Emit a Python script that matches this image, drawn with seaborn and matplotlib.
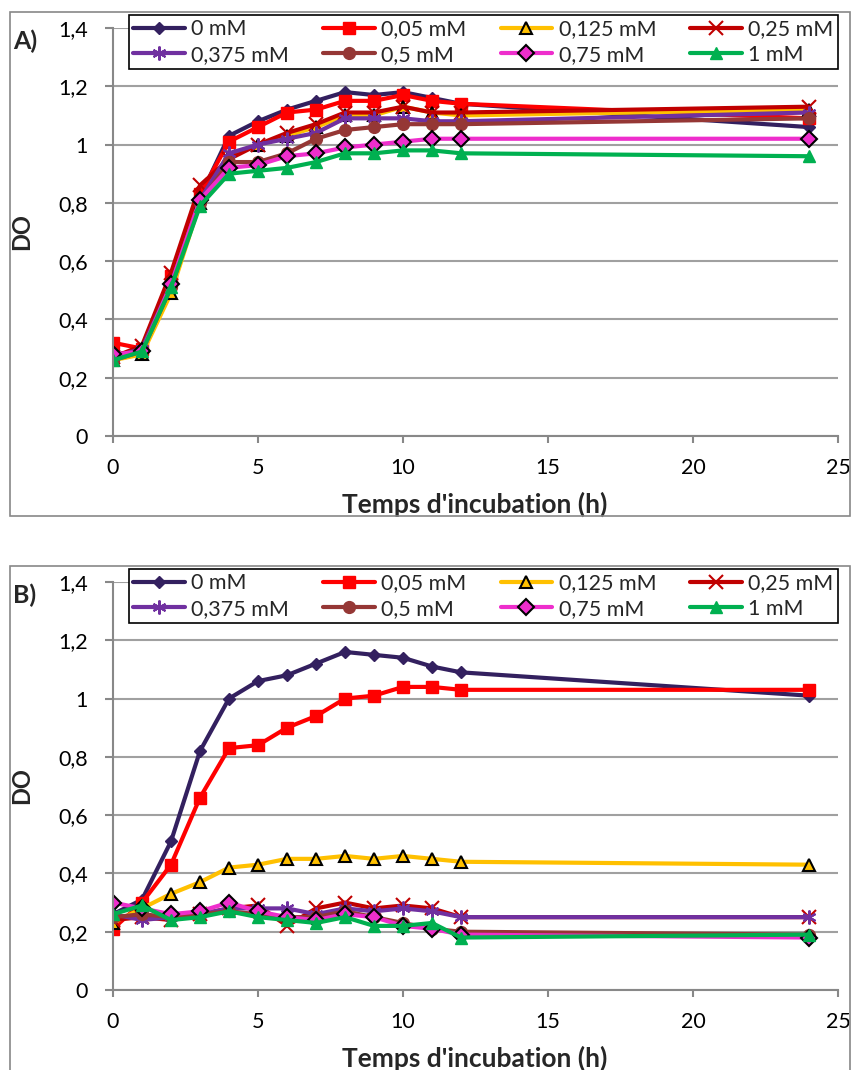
import matplotlib
matplotlib.use("Agg")
import matplotlib.pyplot as plt
from matplotlib.patches import Rectangle
from matplotlib.ticker import FuncFormatter
import seaborn as sns

# Time points (h)
temps = [0, 1, 2, 3, 4, 5, 6, 7, 8, 9, 10, 11, 12, 24]

labels = ["0 mM", "0,05 mM", "0,125 mM", "0,25 mM", "0,375 mM", "0,5 mM", "0,75 mM", "1 mM"]

# Panel A
a_0 = [0.28, 0.29, 0.53, 0.82, 1.03, 1.08, 1.12, 1.15, 1.18, 1.17, 1.18, 1.16, 1.14, 1.06]
a_005 = [0.32, 0.30, 0.55, 0.83, 1.01, 1.06, 1.11, 1.12, 1.15, 1.15, 1.17, 1.15, 1.14, 1.09]
a_0125 = [0.26, 0.28, 0.49, 0.80, 0.96, 1.00, 1.03, 1.06, 1.10, 1.10, 1.13, 1.11, 1.10, 1.12]
a_025 = [0.27, 0.31, 0.56, 0.86, 0.95, 1.00, 1.04, 1.07, 1.11, 1.11, 1.13, 1.11, 1.11, 1.13]
a_0375 = [0.27, 0.30, 0.52, 0.81, 0.97, 1.00, 1.02, 1.04, 1.09, 1.09, 1.09, 1.08, 1.08, 1.11]
a_05 = [0.26, 0.29, 0.51, 0.80, 0.94, 0.94, 0.97, 1.02, 1.05, 1.06, 1.07, 1.07, 1.07, 1.09]
a_075 = [0.28, 0.29, 0.52, 0.81, 0.92, 0.93, 0.96, 0.97, 0.99, 1.00, 1.01, 1.02, 1.02, 1.02]
a_1 = [0.26, 0.29, 0.51, 0.79, 0.90, 0.91, 0.92, 0.94, 0.97, 0.97, 0.98, 0.98, 0.97, 0.96]

# Panel B
b_0 = [0.26, 0.31, 0.51, 0.82, 1.00, 1.06, 1.08, 1.12, 1.16, 1.15, 1.14, 1.11, 1.09, 1.01]
b_005 = [0.21, 0.30, 0.43, 0.66, 0.83, 0.84, 0.90, 0.94, 1.00, 1.01, 1.04, 1.04, 1.03, 1.03]
b_0125 = [0.23, 0.28, 0.33, 0.37, 0.42, 0.43, 0.45, 0.45, 0.46, 0.45, 0.46, 0.45, 0.44, 0.43]
b_025 = [0.24, 0.25, 0.24, 0.26, 0.28, 0.29, 0.22, 0.28, 0.30, 0.28, 0.29, 0.28, 0.25, 0.25]
b_0375 = [0.26, 0.24, 0.25, 0.26, 0.28, 0.28, 0.28, 0.26, 0.28, 0.27, 0.28, 0.27, 0.25, 0.25]
b_05 = [0.25, 0.26, 0.25, 0.26, 0.27, 0.26, 0.25, 0.25, 0.27, 0.25, 0.23, 0.21, 0.20, 0.19]
b_075 = [0.30, 0.28, 0.26, 0.27, 0.30, 0.27, 0.25, 0.24, 0.26, 0.25, 0.22, 0.21, 0.19, 0.18]
b_1 = [0.26, 0.29, 0.24, 0.25, 0.27, 0.25, 0.24, 0.23, 0.25, 0.22, 0.22, 0.23, 0.18, 0.19]

panel_a = [a_0, a_005, a_0125, a_025, a_0375, a_05, a_075, a_1]
panel_b = [b_0, b_005, b_0125, b_025, b_0375, b_05, b_075, b_1]

# Styles (color, marker, marker size, marker edge color)
styles = [
    ("#33205F", "D", 6, "#33205F"),
    ("#FF0000", "s", 8.5, "#FF0000"),
    ("#FFC000", "^", 8.5, "black"),
    ("#C00000", "x", 10, "#C00000"),
    ("#7030A0", (6, 2, 0), 10, "#7030A0"),
    ("#953735", "o", 8.5, "#953735"),
    ("#EE2ECC", "D", 8.5, "black"),
    ("#00B050", "^", 8.5, "#00B050"),
]

sns.set_style("white")
plt.rcParams["font.family"] = ["Lato", "DejaVu Sans"]

W, H = 858, 1070
fig = plt.figure(figsize=(W / 100, H / 100), dpi=100)


def comma(v, pos):
    if abs(v - round(v)) < 1e-9:
        return str(int(round(v)))
    return ("%.1f" % v).replace(".", ",")


def draw(ax, series, leg_top):
    for lab, vals, (col, mk, ms, mec) in zip(labels, series, styles):
        mew = 1.5 if mk in ("x", (6, 2, 0)) or mec == "black" else 1.0
        sns.lineplot(x=temps, y=vals, ax=ax, color=col, marker=mk, markersize=ms,
                     markeredgecolor=mec, markeredgewidth=mew, linewidth=3, label=lab)
    ax.set_xlim(0, 25)
    ax.set_ylim(0, 1.4)
    ax.set_xticks([0, 5, 10, 15, 20, 25])
    ax.set_yticks([0, 0.2, 0.4, 0.6, 0.8, 1.0, 1.2, 1.4])
    ax.yaxis.set_major_formatter(FuncFormatter(comma))
    ax.grid(axis="y", color="#A0A0A0", linewidth=1.5)
    ax.set_axisbelow(True)
    for s in ["top", "right"]:
        ax.spines[s].set_visible(False)
    for s in ["left", "bottom"]:
        ax.spines[s].set_color("#888888")
        ax.spines[s].set_linewidth(1.5)
    ax.tick_params(axis="both", direction="out", width=1.5, color="#888888",
                   labelsize=15.5, labelcolor="black", left=True, bottom=True)
    ax.tick_params(axis="y", length=6, pad=12)
    ax.tick_params(axis="x", length=5, pad=11)
    ax.set_xlabel("Temps d'incubation (h)", fontsize=19, fontweight="bold")
    ax.xaxis.set_label_coords((475 - 113) / 725, (436 - 492) / 408)
    ax.set_ylabel("DO", fontsize=17, fontweight="bold")
    ax.yaxis.set_label_coords((33 - 113) / 725, 0.5)

    # legend, filled row by row
    handles, labs = ax.get_legend_handles_labels()
    order = [0, 4, 1, 5, 2, 6, 3, 7]
    x0, x1 = 129 / W, 838 / W
    y_top = 1 - leg_top / H
    y_bot = 1 - (leg_top + 57) / H
    leg = ax.legend([handles[i] for i in order], [labs[i] for i in order],
                    loc="upper left", bbox_to_anchor=(x0, y_bot, x1 - x0, y_top - y_bot),
                    bbox_transform=fig.transFigure, mode="expand", ncol=4,
                    frameon=True, fancybox=False, edgecolor="black", framealpha=1,
                    fontsize=15.5, handlelength=2.4, handletextpad=0.3,
                    columnspacing=0.8, borderpad=0.2, labelspacing=0.25,
                    borderaxespad=0)
    leg.get_frame().set_linewidth(1.2)


ax_a = fig.add_axes([113 / W, 1 - 436 / H, 725 / W, 408 / H])
ax_b = fig.add_axes([113 / W, 1 - 990 / H, 725 / W, 408 / H])
draw(ax_a, panel_a, 15)
draw(ax_b, panel_b, 15 + 554)

fig.text(13 / W, 1 - 41.5 / H, "A)", fontsize=18, fontweight="bold", va="center")
fig.text(13 / W, 1 - 595.5 / H, "B)", fontsize=18, fontweight="bold", va="center")

# Panel frames
fig.patches.append(Rectangle((10 / W, 1 - 516 / H), 840 / W, 504 / H,
                             transform=fig.transFigure, fill=False, edgecolor="#888888", lw=1.2))
fig.patches.append(Rectangle((10 / W, 1 - 1072 / H), 840 / W, 506 / H,
                             transform=fig.transFigure, fill=False, edgecolor="#888888", lw=1.2))

fig.savefig("out.png", dpi=100)
